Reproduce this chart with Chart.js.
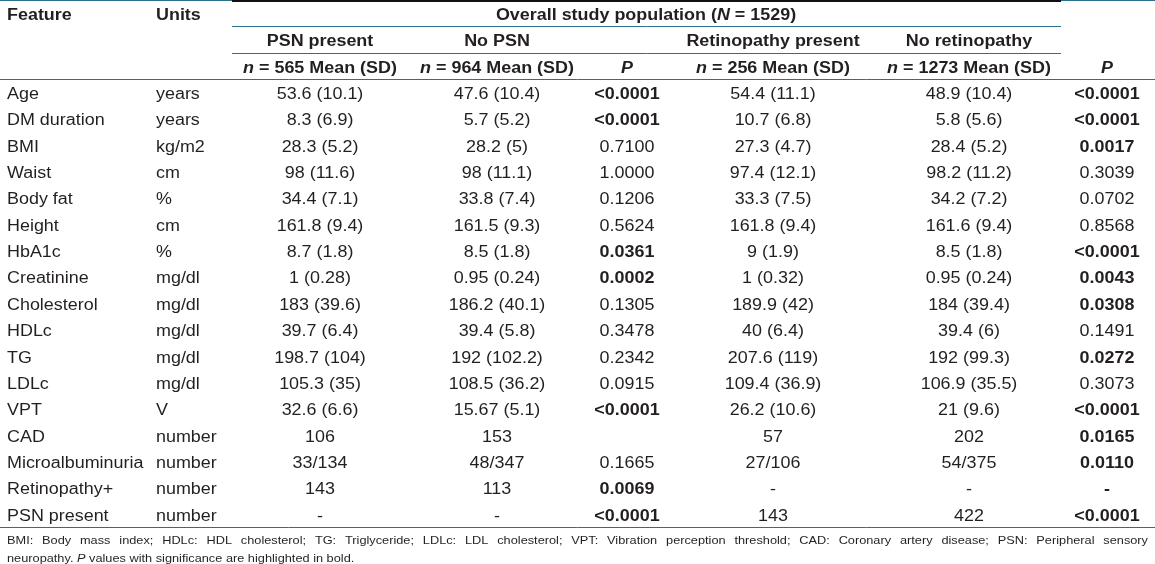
<!DOCTYPE html>
<html><head><meta charset="utf-8">
<script src="https://cdn.jsdelivr.net/npm/chart.js@4"></script>
<style>html,body{margin:0;padding:0;background:#fff}canvas{display:block}</style>
</head><body>
<div style="width:1155px;height:564px"><canvas id="c" width="1155" height="564"></canvas></div>
<script>
// ---------------- DATA ----------------
const features = ["Age","DM duration","BMI","Waist","Body fat","Height","HbA1c","Creatinine","Cholesterol","HDLc","TG","LDLc","VPT","CAD","Microalbuminuria","Retinopathy+","PSN present"];
const units = ["years","years","kg/m2","cm","%","cm","%","mg/dl","mg/dl","mg/dl","mg/dl","mg/dl","V","number","number","number","number"];
const psnPresent = ["53.6 (10.1)","8.3 (6.9)","28.3 (5.2)","98 (11.6)","34.4 (7.1)","161.8 (9.4)","8.7 (1.8)","1 (0.28)","183 (39.6)","39.7 (6.4)","198.7 (104)","105.3 (35)","32.6 (6.6)","106","33/134","143","-"];
const noPsn = ["47.6 (10.4)","5.7 (5.2)","28.2 (5)","98 (11.1)","33.8 (7.4)","161.5 (9.3)","8.5 (1.8)","0.95 (0.24)","186.2 (40.1)","39.4 (5.8)","192 (102.2)","108.5 (36.2)","15.67 (5.1)","153","48/347","113","-"];
const pPsn = ["<0.0001","<0.0001","0.7100","1.0000","0.1206","0.5624","0.0361","0.0002","0.1305","0.3478","0.2342","0.0915","<0.0001","","0.1665","0.0069","<0.0001"];
const pPsnBold = [1,1,0,0,0,0,1,1,0,0,0,0,1,0,0,1,1];
const retPresent = ["54.4 (11.1)","10.7 (6.8)","27.3 (4.7)","97.4 (12.1)","33.3 (7.5)","161.8 (9.4)","9 (1.9)","1 (0.32)","189.9 (42)","40 (6.4)","207.6 (119)","109.4 (36.9)","26.2 (10.6)","57","27/106","-","143"];
const noRet = ["48.9 (10.4)","5.8 (5.6)","28.4 (5.2)","98.2 (11.2)","34.2 (7.2)","161.6 (9.4)","8.5 (1.8)","0.95 (0.24)","184 (39.4)","39.4 (6)","192 (99.3)","106.9 (35.5)","21 (9.6)","202","54/375","-","422"];
const pRet = ["<0.0001","<0.0001","0.0017","0.3039","0.0702","0.8568","<0.0001","0.0043","0.0308","0.1491","0.0272","0.3073","<0.0001","0.0165","0.0110","-","<0.0001"];
const pRetBold = [1,1,1,0,0,0,1,1,1,0,1,0,1,1,1,1,1];

const headFeature = "Feature";
const headUnits = "Units";
const overallLabel = "Overall study population";
const overallN = 1529;
const groupLabels = ["PSN present","No PSN","Retinopathy present","No retinopathy"];
const groupN = [565, 964, 256, 1273];
const footLine1 = "BMI: Body mass index; HDLc: HDL cholesterol; TG: Triglyceride; LDLc: LDL cholesterol; VPT: Vibration perception threshold; CAD: Coronary artery disease; PSN: Peripheral sensory";
const footLine2 = ["neuropathy. ", "P", " values with significance are highlighted in bold."];

// ---------------- LAYOUT / STYLE ----------------
const FAM = '"Liberation Sans", Arial, Helvetica, sans-serif';
const FS = 16, SX = 1.12, FOOT_FS = 11.4;
const TEXT = '#231f20';
const RULE = '#2a6f8c';
const columns = [
  {values: features, x: 7, align: 'left'},
  {values: units, x: 156, align: 'left'},
  {values: psnPresent, x: 320, align: 'center'},
  {values: noPsn, x: 497, align: 'center'},
  {values: pPsn, bold: pPsnBold, x: 627, align: 'center'},
  {values: retPresent, x: 773, align: 'center'},
  {values: noRet, x: 969, align: 'center'},
  {values: pRet, bold: pRetBold, x: 1107, align: 'center'}
];
const groupX = [320, 497, 773, 969];
const pX = [627, 1107];
const spanLeft = 232, spanRight = 1061, overallX = 646;

function fnt(size, bold, italic){ return (italic?'italic ':'') + (bold?'bold ':'') + size + 'px ' + FAM; }
function segW(ctx, segs, size){ let w=0; for (const s of segs){ ctx.font = fnt(size, s[1], s[2]); w += ctx.measureText(s[0]).width; } return w; }
function drawRich(ctx, segs, x, y, align, size, sx){
  const w = segW(ctx, segs, size) * sx;
  let cx = align === 'center' ? x - w/2 : (align === 'right' ? x - w : x);
  for (const s of segs){
    ctx.font = fnt(size, s[1], s[2]);
    const mw = ctx.measureText(s[0]).width;
    ctx.save(); ctx.translate(cx, y); ctx.scale(sx, 1); ctx.fillText(s[0], 0, 0); ctx.restore();
    cx += mw * sx;
  }
}
function hline(ctx, x1, x2, y, color, w){
  ctx.save(); ctx.strokeStyle = color; ctx.lineWidth = w;
  ctx.beginPath(); ctx.moveTo(x1, y); ctx.lineTo(x2, y); ctx.stroke(); ctx.restore();
}

const tablePlugin = {
  id: 'tableDraw',
  afterDraw(chart){
    const ctx = chart.ctx, ys = chart.scales.y, xs = chart.scales.x;
    const X = v => xs.getPixelForValue(v);
    const Y = v => ys.getPixelForValue(v);
    const base = v => Y(v) + 6.8;
    ctx.save();
    ctx.fillStyle = TEXT; ctx.textBaseline = 'alphabetic'; ctx.textAlign = 'left';

    // rules
    hline(ctx, X(0), X(1155), Math.round(Y(-3.5)) + 0.5, RULE, 1);
    hline(ctx, X(spanLeft), X(spanRight), Math.round(Y(-3.5)) + 1, '#111', 2);
    hline(ctx, X(spanLeft), X(spanRight), Math.round(Y(-2.5)) + 0.5, RULE, 1);
    hline(ctx, X(spanLeft), X(spanRight), Math.round(Y(-1.5)) + 0.5, RULE, 1);
    hline(ctx, X(0), X(1155), Math.round(Y(-0.5)) + 0.5, RULE, 1);
    hline(ctx, X(0), X(1155), Math.round(Y(features.length - 0.5)) + 0.5, RULE, 1);

    // header
    drawRich(ctx, [[headFeature, true, false]], X(columns[0].x), base(-3), 'left', FS, SX);
    drawRich(ctx, [[headUnits, true, false]], X(columns[1].x), base(-3), 'left', FS, SX);
    drawRich(ctx, [[overallLabel + ' (', true, false], ['N', true, true], [' = ' + overallN + ')', true, false]], X(overallX), base(-3), 'center', FS, SX);
    groupLabels.forEach((g, i) => {
      drawRich(ctx, [[g, true, false]], X(groupX[i]), base(-2), 'center', FS, SX);
      drawRich(ctx, [['n', true, true], [' = ' + groupN[i] + ' Mean (SD)', true, false]], X(groupX[i]), base(-1), 'center', FS, SX);
    });
    pX.forEach(px => drawRich(ctx, [['P', true, true]], X(px), base(-1), 'center', FS, SX));

    // body
    columns.forEach(col => {
      col.values.forEach((v, i) => {
        if (v === '') return;
        const b = col.bold ? !!col.bold[i] : false;
        drawRich(ctx, [[v, b, false]], X(col.x), base(i), col.align, FS, SX);
      });
    });

    // footer
    const fy1 = Y(features.length - 0.5) + 16.5, fy2 = fy1 + 18;
    const words = footLine1.split(' ');
    ctx.font = fnt(FOOT_FS, false, false);
    const ww = words.map(w => ctx.measureText(w).width * SX);
    const total = ww.reduce((a, b) => a + b, 0);
    const left = X(7), right = X(1148);
    const gap = (right - left - total) / (words.length - 1);
    let cx = left;
    words.forEach((w, i) => { drawRich(ctx, [[w, false, false]], cx, fy1, 'left', FOOT_FS, SX); cx += ww[i] + gap; });
    drawRich(ctx, [[footLine2[0], false, false], [footLine2[1], false, true], [footLine2[2], false, false]], left, fy2, 'left', FOOT_FS, SX);
    ctx.restore();
  }
};

new Chart(document.getElementById('c'), {
  type: 'scatter',
  data: { labels: features, datasets: [{ data: [], pointRadius: 0 }] },
  options: {
    responsive: false, animation: false, devicePixelRatio: 1,
    layout: { padding: { top: 79, bottom: 37, left: 0, right: 0 } },
    plugins: { legend: { display: false }, tooltip: { enabled: false } },
    scales: {
      x: { type: 'linear', min: 0, max: 1155, display: false },
      y: { type: 'category', labels: features, offset: true, display: false }
    }
  },
  plugins: [tablePlugin]
});
</script>
</body></html>
